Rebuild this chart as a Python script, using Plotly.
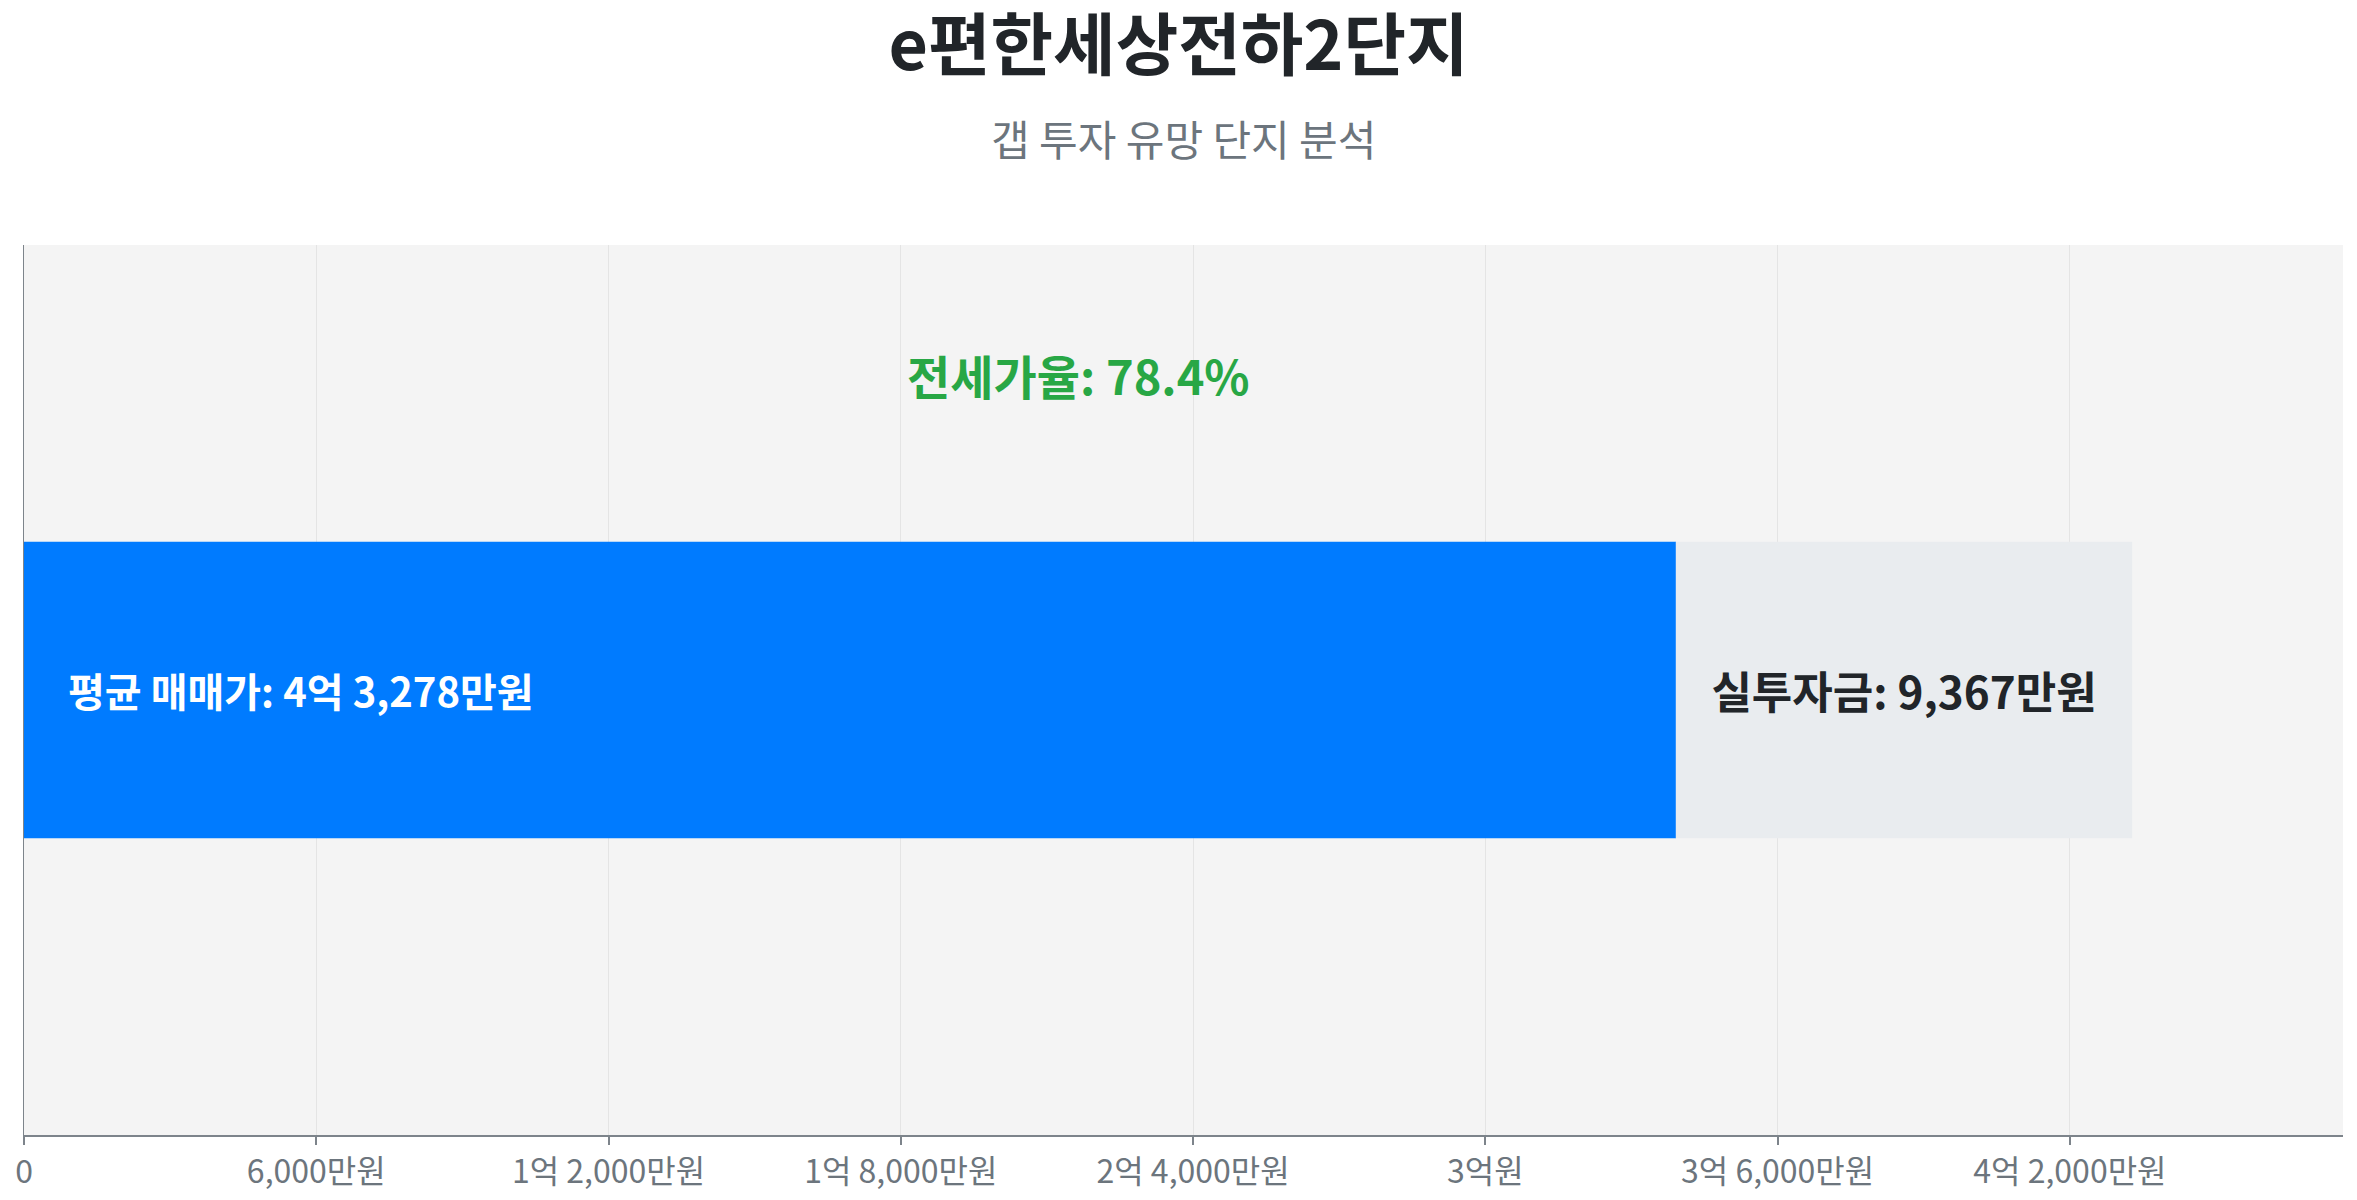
import plotly.graph_objects as go

# Data (unit: 만원)
complex_name = "e편한세상전하2단지"
subtitle = "갭 투자 유망 단지 분석"
sale_price = 43278      # 평균 매매가
gap_amount = 9367       # 실투자금
jeonse_amount = sale_price - gap_amount
jeonse_ratio = 78.4

tick_vals = [0, 6000, 12000, 18000, 24000, 30000, 36000, 42000]
tick_text = ["0", "6,000만원", "1억 2,000만원", "1억 8,000만원", "2억 4,000만원",
             "3억원", "3억 6,000만원", "4억 2,000만원"]

font_family = "Noto Sans CJK KR, Noto Sans, sans-serif"

# page body has an 8px margin, so the figure is sized to fit inside it
W, H = 2341, 1184
M_L, M_R, M_T, M_B = 16, 6, 237, 57
plot_h = H - M_T - M_B

fig = go.Figure()
fig.add_trace(go.Bar(
    y=[0], x=[jeonse_amount], orientation="h", width=1 / 3,
    marker=dict(color="#007bff", line=dict(width=0)),
    hoverinfo="skip", showlegend=False,
))
fig.add_trace(go.Bar(
    y=[0], x=[gap_amount], base=[jeonse_amount], orientation="h", width=1 / 3,
    marker=dict(color="#e9ecef", line=dict(width=0)),
    text=[f"실투자금: {gap_amount:,}만원"], textposition="inside",
    insidetextanchor="middle",
    textfont=dict(family=font_family, size=44, color="#212529", weight="bold"),
    hoverinfo="skip", showlegend=False,
))

# label inside the blue bar, left aligned
fig.add_annotation(
    x=0, y=0, xref="x", yref="y", xanchor="left", yanchor="middle", xshift=42,
    text=f"평균 매매가: {sale_price // 10000}억 {sale_price % 10000:,}만원",
    showarrow=False,
    font=dict(family=font_family, size=40, color="#ffffff", weight="bold"),
)
# ratio label above the bar
fig.add_annotation(
    x=sale_price / 2, y=0.354, xref="x", yref="y",
    text=f"전세가율: {jeonse_ratio}%", showarrow=False,
    font=dict(family=font_family, size=47, color="#28a745", weight="bold"),
)
# subtitle
fig.add_annotation(
    x=0.5, y=(H - 129 - M_B) / plot_h, xref="paper", yref="paper",
    xanchor="center", yanchor="middle", text=subtitle, showarrow=False,
    font=dict(family=font_family, size=42, color="#6c757d"),
)

fig.update_layout(
    width=W, height=H,
    margin=dict(l=M_L, r=M_R, t=M_T, b=M_B),
    paper_bgcolor="#ffffff", plot_bgcolor="#f4f4f4",
    barmode="overlay",
    font=dict(family=font_family, color="#6c757d"),
    title=dict(
        text=complex_name, x=0.5, xanchor="center", y=1 - 38 / H, yanchor="middle",
        font=dict(family=font_family, size=68, color="#212529", weight="bold"),
    ),
    xaxis=dict(
        range=[0, sale_price * 1.1], tickvals=tick_vals, ticktext=tick_text,
        showgrid=True, gridcolor="#e4e4e4", gridwidth=1,
        showline=True, linecolor="#7d848b", linewidth=2,
        ticks="outside", ticklen=8, tickwidth=2, tickcolor="#7d848b",
        tickfont=dict(family=font_family, size=32, color="#6c757d"),
        zeroline=False, fixedrange=True, automargin=False,
    ),
    yaxis=dict(
        range=[-0.5, 0.5], showticklabels=False, showgrid=False, zeroline=False,
        showline=True, linecolor="#7d848b", linewidth=1, fixedrange=True,
    ),
)

fig.write_html("out.html")
